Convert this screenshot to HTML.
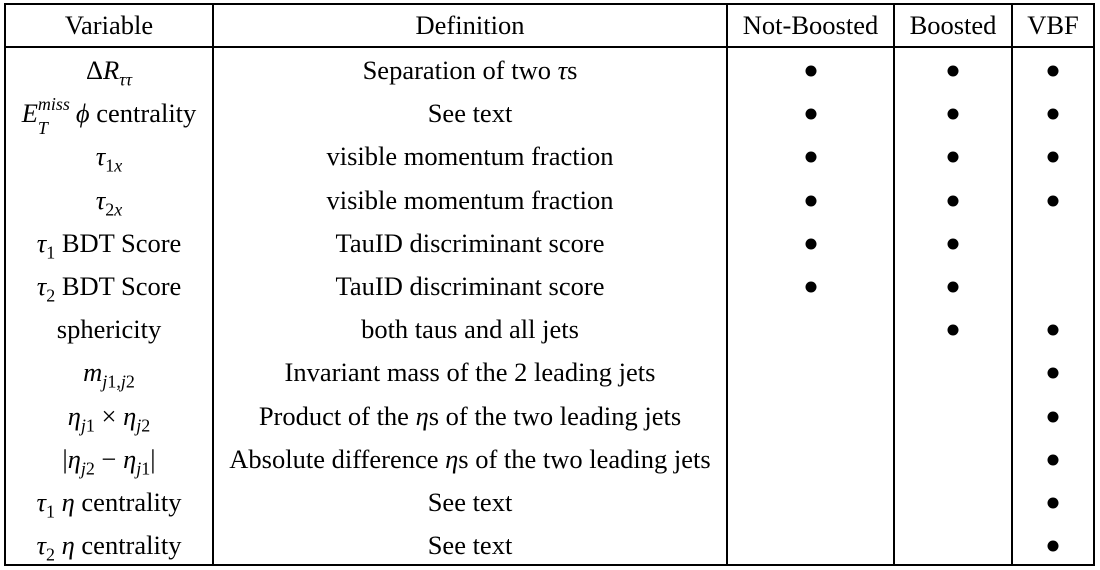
<!DOCTYPE html>
<html><head><meta charset="utf-8"><style>
body{margin:0;width:1100px;height:570px;background:#fff;position:relative;overflow:hidden;font-family:"Liberation Serif",serif;font-size:26.5px;color:#000}
.ln{position:absolute;background:#000}
.c{position:absolute;text-align:center;line-height:28px;white-space:nowrap;transform:translateY(-50%)}
i{font-style:italic}
sub,sup{font-size:18px;line-height:0}
.dot{position:absolute;width:11px;height:11px;border-radius:50%;background:#000;transform:translate(-50%,-50%)}
</style></head><body>
<div class="ln" style="left:4px;top:3px;width:1091px;height:2px"></div>
<div class="ln" style="left:4px;top:46px;width:1091px;height:2px"></div>
<div class="ln" style="left:4px;top:564px;width:1091px;height:2px"></div>
<div class="ln" style="left:4px;top:3px;width:2px;height:563px"></div>
<div class="ln" style="left:212px;top:3px;width:2px;height:563px"></div>
<div class="ln" style="left:726px;top:3px;width:2px;height:563px"></div>
<div class="ln" style="left:893px;top:3px;width:2px;height:563px"></div>
<div class="ln" style="left:1011px;top:3px;width:2px;height:563px"></div>
<div class="ln" style="left:1093px;top:3px;width:2px;height:563px"></div>
<div id="t"></div>
<script>
const cols=[[5,213],[213,727],[727,894],[894,1012],[1012,1094]];
const headers=["Variable","Definition","Not-Boosted","Boosted","VBF"];
const vars=['Δ<i>R</i><sub><i>ττ</i></sub>','<i>E</i><span style="display:inline-block;position:relative;width:38px;height:10px"><i style="position:absolute;left:0;top:-22px;font-size:18px">miss</i><i style="position:absolute;left:0;top:2px;font-size:18px">T</i></span><i>ϕ</i> centrality','<i>τ</i><sub>1<i>x</i></sub>','<i>τ</i><sub>2<i>x</i></sub>','<i>τ</i><sub>1</sub> BDT Score','<i>τ</i><sub>2</sub> BDT Score','sphericity','<i>m</i><sub><i>j</i>1,<i>j</i>2</sub>','<i>η</i><sub><i>j</i>1</sub> × <i>η</i><sub><i>j</i>2</sub>','|<i>η</i><sub><i>j</i>2</sub> − <i>η</i><sub><i>j</i>1</sub>|','<i>τ</i><sub>1</sub> <i>η</i> centrality','<i>τ</i><sub>2</sub> <i>η</i> centrality'];
const defs=['Separation of two <i>τ</i>s','See text','visible momentum fraction','visible momentum fraction','TauID discriminant score','TauID discriminant score','both taus and all jets','Invariant mass of the 2 leading jets','Product of the <i>η</i>s of the two leading jets','Absolute difference <i>η</i>s of the two leading jets','See text','See text'];
const notBoosted=[1,1,1,1,1,1,0,0,0,0,0,0];
const boosted=[1,1,1,1,1,1,1,0,0,0,0,0];
const vbf=[1,1,1,1,0,0,1,1,1,1,1,1];
const t=document.getElementById('t');
function cell(ci,y,html,name){const d=document.createElement('div');d.className='c';d.style.left=cols[ci][0]+'px';d.style.width=(cols[ci][1]-cols[ci][0])+'px';d.style.top=y+'px';d.innerHTML=html;


t.appendChild(d);}
headers.forEach((h,i)=>cell(i,25,h,'header-'+h.toLowerCase()));
const rowY=r=>70+r*43.2;
vars.forEach((v,r)=>{cell(0,rowY(r),v,'variable-cell');cell(1,rowY(r),defs[r],'definition-cell');
[notBoosted,boosted,vbf].forEach((arr,k)=>{if(arr[r]){const d=document.createElement('div');d.className='dot';d.style.left=((cols[k+2][0]+cols[k+2][1])/2)+'px';d.style.top=(rowY(r)+1)+'px';


t.appendChild(d);}});});
</script>
</body></html>
